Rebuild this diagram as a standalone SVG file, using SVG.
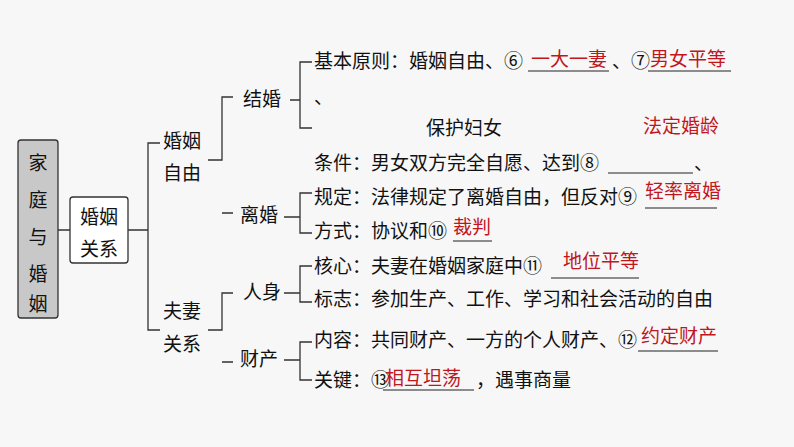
<svg xmlns="http://www.w3.org/2000/svg" width="794" height="447" viewBox="0 0 794 447">
<style>
text{font-family:"Noto Sans CJK SC","Liberation Sans",sans-serif;font-size:19px;fill:#111}
.r{fill:#c0161c}
.l{stroke:#333;stroke-width:1.3;fill:none}
.u{stroke:#222;stroke-width:1.2}
</style>
<rect width="794" height="447" fill="#f7f7f7"/>
<g id="connectors">
<path class="l" d="M58 230H70M128 230H148M160 143H148V330H160"/>
<path class="l" d="M208 160H222V97H233M222 213H233"/>
<path class="l" d="M208 330H222V293H233M222 362H233"/>
<path class="l" d="M290 100H300M312 62H300V128H312"/>
<path class="l" d="M284 217H300M312 193H300V233H312"/>
<path class="l" d="M284 293H300M312 266H300V302H312"/>
<path class="l" d="M284 360H300M312 342H300V380H312"/>
</g>
<g id="root"><rect x="18" y="140" width="40" height="178" fill="#c8c8c8" stroke="#333" stroke-width="1.3" rx="3"/>
<text x="38" y="170" text-anchor="middle" font-size="21">家</text><text x="38" y="207" text-anchor="middle" font-size="21">庭</text><text x="38" y="244" text-anchor="middle" font-size="21">与</text><text x="38" y="281" text-anchor="middle" font-size="21">婚</text><text x="38" y="311" text-anchor="middle" font-size="21">姻</text></g>
<g id="hygx"><rect x="70" y="197" width="58" height="66" fill="#fff" stroke="#333" stroke-width="1.3" rx="3"/>
<text x="99" y="224" text-anchor="middle">婚姻</text><text x="99" y="256" text-anchor="middle">关系</text></g>
<g id="hyzy"><text x="163" y="148">婚姻</text><text x="163" y="180">自由</text></g>
<g id="fqgx"><text x="163" y="318">夫妻</text><text x="163" y="351">关系</text></g>
<g id="jh"><text x="243" y="106">结婚</text>
<text x="314" y="68">基本原则：婚姻自由、⑥</text><line class="u" x1="528" y1="71" x2="609" y2="71"/><text x="531" y="66" class="r">一大一妻</text>
<text x="612" y="68">、⑦</text><line class="u" x1="648" y1="71" x2="731" y2="71"/><text x="650" y="66" class="r">男女平等</text>
<text x="314" y="104">、</text>
<text x="426" y="135">保护妇女</text><text x="643" y="133" class="r">法定婚龄</text>
<text x="314" y="170">条件：男女双方完全自愿、达到⑧</text><line class="u" x1="608" y1="173" x2="693" y2="173"/><text x="694" y="170">、</text></g>
<g id="lh"><text x="240" y="222">离婚</text>
<text x="314" y="204">规定：法律规定了离婚自由，但反对⑨</text><line class="u" x1="645" y1="208" x2="717" y2="208"/><text x="645" y="198" class="r">轻率离婚</text>
<text x="314" y="238">方式：协议和⑩</text><line class="u" x1="453" y1="241" x2="492" y2="241"/><text x="453" y="234" class="r">裁判</text></g>
<g id="rs"><text x="243" y="299">人身</text>
<text x="314" y="273">核心：夫妻在婚姻家庭中⑪</text><line class="u" x1="551" y1="278" x2="639" y2="278"/><text x="563" y="268" class="r">地位平等</text>
<text x="314" y="306">标志：参加生产、工作、学习和社会活动的自由</text></g>
<g id="cc"><text x="240" y="366">财产</text>
<text x="314" y="347">内容：共同财产、一方的个人财产、⑫</text><line class="u" x1="638" y1="351" x2="718" y2="351"/><text x="641" y="343" class="r">约定财产</text>
<text x="314" y="387">关键：⑬</text><line class="u" x1="383" y1="390" x2="474" y2="390"/><text x="385" y="385" class="r">相互坦荡</text><text x="476" y="387">，遇事商量</text></g>
</svg>
